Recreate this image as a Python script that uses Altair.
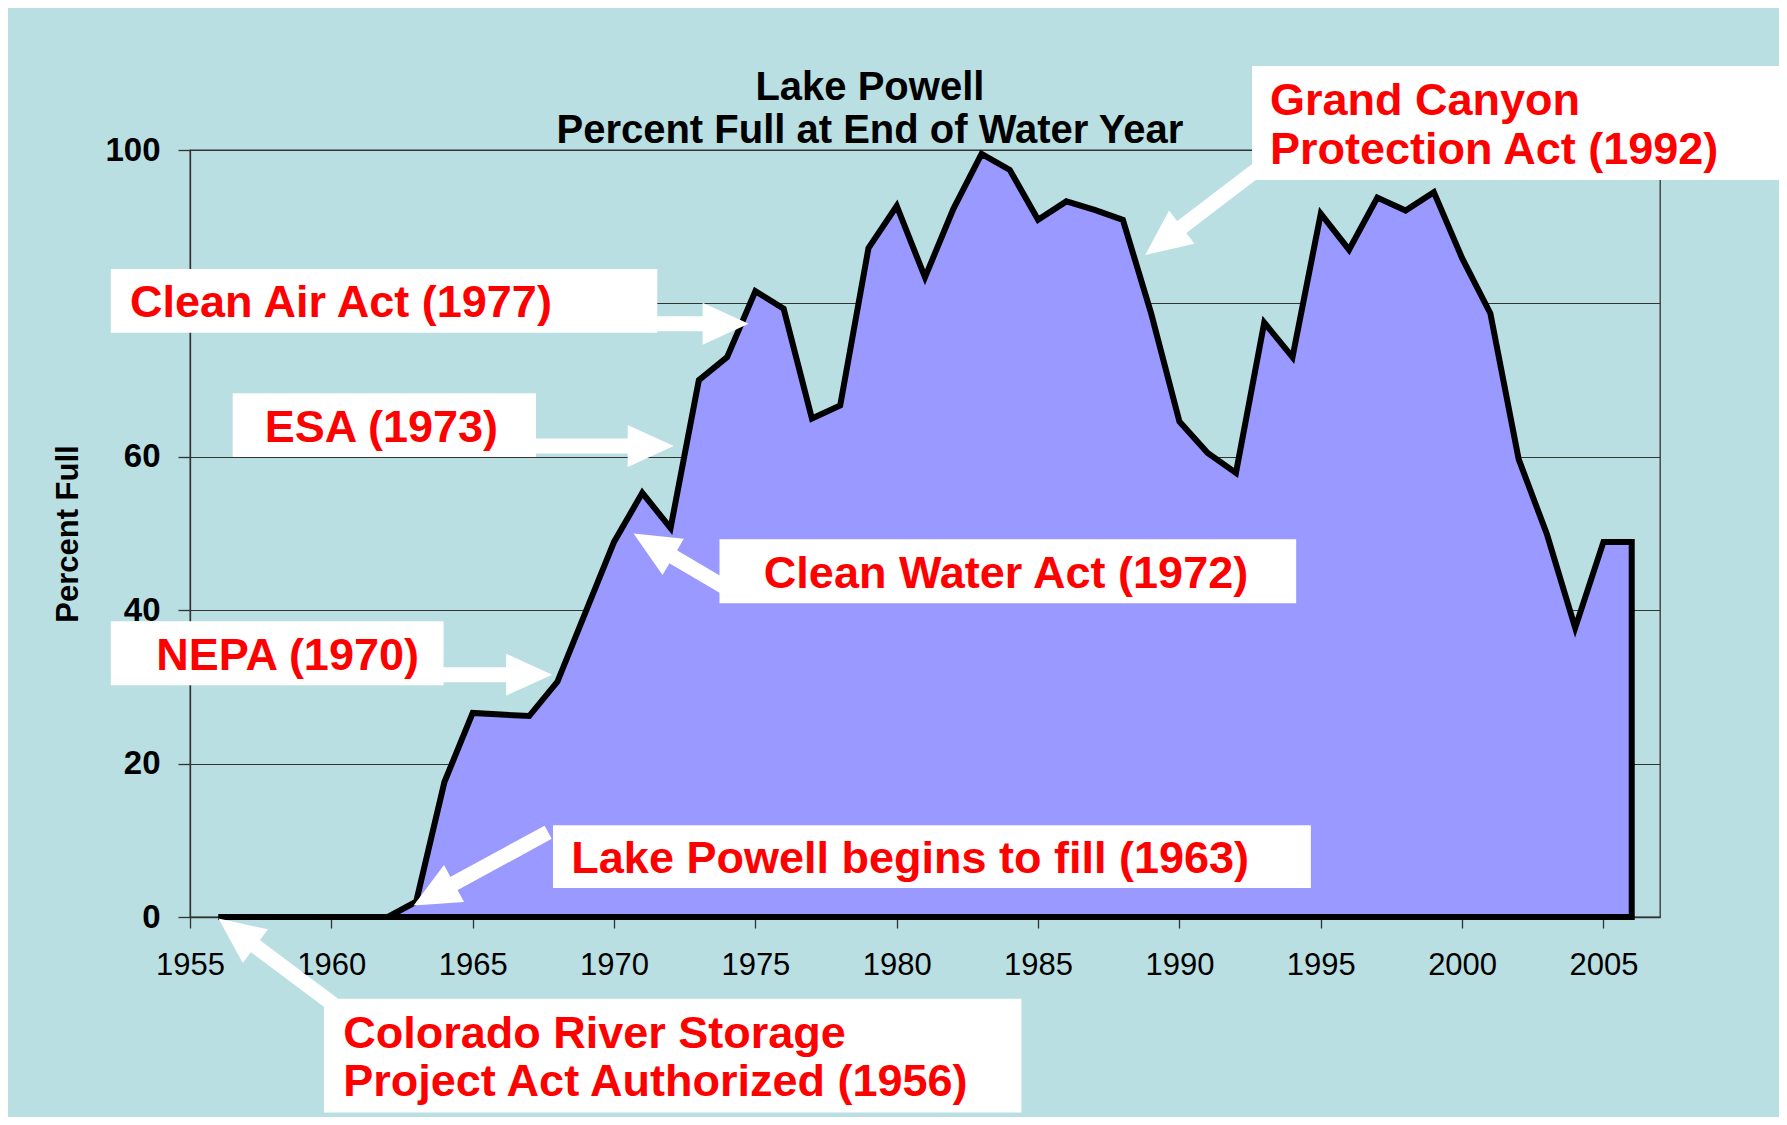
import math
import altair as alt
import pandas as pd

# ---------------- data ----------------
years = list(range(1956, 2007))
pct_full = [0, 0, 0, 0, 0, 0, 0,
            2.0, 17.6, 26.6, 26.4, 26.2, 30.7, 39.8, 48.9, 55.3, 50.7,
            70.0, 73.0, 81.6, 79.3, 65.0, 66.7, 87.2, 92.7, 83.4, 92.3,
            99.5, 97.4, 90.9, 93.3, 92.2, 90.9, 78.7, 64.6, 60.5, 57.9,
            77.5, 73.0, 91.7, 87.0, 93.8, 92.1, 94.5, 85.9, 78.7, 59.7,
            49.9, 37.7, 48.9, 48.9]

x_ticks = [1955, 1960, 1965, 1970, 1975, 1980, 1985, 1990, 1995, 2000, 2005]
y_ticks = [0, 20, 40, 60, 80, 100]

title_lines = ["Lake Powell", "Percent Full at End of Water Year"]
title_year = [1979.05, 1979.05]
title_pct = [108.1, 102.45]

# annotation boxes (data units)
box_x1 = [1992.57, 1952.2, 1956.51, 1973.73, 1952.2, 1967.84, 1959.74]
box_x2 = [2011.4, 1971.53, 1967.24, 1994.13, 1963.97, 1994.65, 1984.41]
box_y1 = [110.96, 84.48, 68.28, 49.26, 38.57, 11.96, -10.66]
box_y2 = [96.1, 76.17, 59.96, 40.91, 30.22, 3.77, -25.5]

# annotation texts
note_text = ["Grand Canyon", "Protection Act (1992)", "Clean Air Act (1977)",
             "ESA (1973)", "Clean Water Act (1972)", "NEPA (1970)",
             "Lake Powell begins to fill (1963)", "Colorado River Storage",
             "Project Act Authorized (1956)"]
note_year = [1993.2, 1993.2, 1952.88, 1957.64, 1975.3, 1953.81, 1968.49,
             1960.42, 1960.42]
note_pct = [106.44, 100.05, 80.0, 63.78, 44.75, 34.06, 7.58, -15.3, -21.56]

# arrows (tail -> tip, data units)
arrow_tail_year = [1992.8, 1971.0, 1967.0, 1974.47, 1963.7, 1967.67, 1960.07]
arrow_tail_pct = [97.6, 77.35, 61.4, 41.8, 31.6, 11.05, -11.4]
arrow_tip_year = [1988.79, 1974.76, 1972.11, 1970.69, 1967.81, 1962.91, 1956.01]
arrow_tip_pct = [86.3, 77.35, 61.4, 50.0, 31.6, 1.5, -0.2]

# ---------------- layout / style ----------------
W, H = 1470, 767
X_DOM = [1955, 2007]
Y_DOM = [0, 100]
SX = W / (X_DOM[1] - X_DOM[0])
SY = H / (Y_DOM[1] - Y_DOM[0])
HEAD = 46
HEAD_PATH = "M-1,-0.913L1,0L-1,0.913Z"
FONT = "Liberation Sans"
BG = "#B9DFE2"
FILL = "#9999FF"
LINE = "#333333"

# arrow geometry derived from the annotation table
shaft_rows, head_rows = [], []
for x0, y0, x1, y1 in zip(arrow_tail_year, arrow_tail_pct, arrow_tip_year, arrow_tip_pct):
    dxp = (x1 - x0) * SX
    dyp = -(y1 - y0) * SY
    L = math.hypot(dxp, dyp)
    ux, uy = dxp / L, dyp / L
    hx = x1 - (HEAD / 2) * ux / SX
    hy = y1 + (HEAD / 2) * uy / SY
    sx = x1 - (HEAD - 4) * ux / SX
    sy = y1 + (HEAD - 4) * uy / SY
    ang = math.degrees(math.atan2(dyp, dxp)) % 360
    shaft_rows.append({"year": x0, "pct": y0, "year2": sx, "pct2": sy})
    head_rows.append({"year": hx, "pct": hy, "angle": ang})

df = pd.DataFrame({"year": years, "pct": pct_full})
boxes = pd.DataFrame({"year": box_x1, "year2": box_x2, "pct": box_y1, "pct2": box_y2})
notes = pd.DataFrame({"text": note_text, "year": note_year, "pct": note_pct})
titles = pd.DataFrame({"text": title_lines, "year": title_year, "pct": title_pct})
shafts = pd.DataFrame(shaft_rows)
heads = pd.DataFrame(head_rows)

xscale = alt.Scale(domain=X_DOM, nice=False, zero=False)
yscale = alt.Scale(domain=Y_DOM, nice=False, zero=False)

xaxis = alt.Axis(values=x_ticks, format="d", title=None, grid=False,
                 labelFont=FONT, labelFontSize=31, labelFontWeight="normal",
                 labelColor="black", labelPadding=22, labelFlush=False,
                 labelOverlap=False, tickSize=11, tickColor=LINE, tickWidth=1.3,
                 domainColor=LINE, domainWidth=1.3)
# the 80 label sits under the "Clean Air Act" box in the original, so it is blank
yaxis = alt.Axis(values=y_ticks, format="d", grid=True, gridColor=LINE,
                 gridWidth=1.2, labelFont=FONT, labelFontSize=33,
                 labelFontWeight="bold", labelColor="black", labelPadding=18,
                 labelExpr="datum.value == 80 ? '' : datum.label",
                 tickSize=12, tickColor=LINE, tickWidth=1.3, domainColor=LINE,
                 domainWidth=1.3, title="Percent Full", titleFont=FONT,
                 titleFontSize=31, titleFontWeight="bold", titleColor="black",
                 titleAngle=270, titleAlign="center", titleBaseline="middle",
                 titleX=-122, titleY=H / 2)

X = alt.X("year:Q", scale=xscale, axis=xaxis)
Y = alt.Y("pct:Q", scale=yscale, axis=yaxis)

area = alt.Chart(df).mark_area(
    color=FILL, stroke="black", strokeWidth=6, strokeJoin="miter", opacity=1
).encode(x=X, y=Y)

box_layer = alt.Chart(boxes).mark_rect(color="white", opacity=1).encode(
    x=X, x2="year2:Q", y=Y, y2="pct2:Q",
)

shaft_layer = alt.Chart(shafts).mark_rule(
    color="white", strokeWidth=15, strokeCap="butt", opacity=1
).encode(x=X, x2="year2:Q", y=Y, y2="pct2:Q")

head_layer = alt.Chart(heads).mark_point(
    shape=HEAD_PATH, filled=True, size=HEAD * HEAD, color="white", opacity=1
).encode(x=X, y=Y, angle=alt.Angle("angle:Q", scale=None))

note_layer = alt.Chart(notes).mark_text(
    align="left", baseline="middle", font=FONT, fontSize=45,
    fontWeight="bold", color="#FF0000"
).encode(x=X, y=Y, text="text:N")

title_layer = alt.Chart(titles).mark_text(
    align="center", baseline="middle", font=FONT, fontSize=40,
    fontWeight="bold", color="black"
).encode(x=X, y=Y, text="text:N")

chart = alt.layer(
    area, box_layer, shaft_layer, head_layer, note_layer, title_layer
).properties(
    width=W, height=H,
    padding={"left": 182, "top": 142, "right": 119, "bottom": 200},
    autosize=alt.AutoSizeParams(type="none"),
    background=BG,
).configure_view(stroke=LINE, strokeWidth=1.3)

chart.save("out.html", embed_options={"renderer": "svg", "actions": False})
